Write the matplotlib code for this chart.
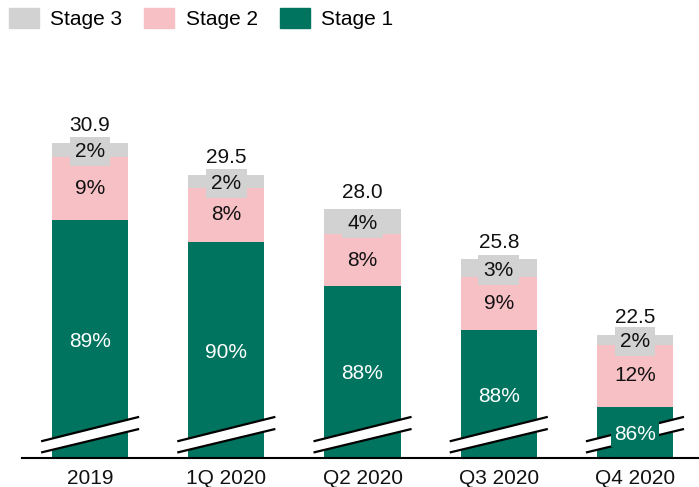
import matplotlib
matplotlib.use("Agg")
import matplotlib.pyplot as plt
from matplotlib.patches import Patch, Polygon

plt.rcParams['font.family'] = ['Liberation Sans', 'DejaVu Sans']

categories = ["2019", "1Q 2020", "Q2 2020", "Q3 2020", "Q4 2020"]
totals = [30.9, 29.5, 28.0, 25.8, 22.5]
stage1_pct = [89, 90, 88, 88, 86]
stage2_pct = [9, 8, 8, 9, 12]
stage3_pct = [2, 2, 4, 3, 2]

GREEN = "#00745F"
PINK = "#F7C0C5"
GREY = "#D2D2D2"
TXT = "#111111"

ybase = 17.1
px_per_unit = 22.86

W, H = 699, 487
fig = plt.figure(figsize=(W / 100, H / 100), dpi=100)
ax_top_px = 60
ax = fig.add_axes([22 / W, (H - 458) / H, 677 / W, (458 - ax_top_px) / H])
ax.set_ylim(ybase, ybase + (458 - ax_top_px) / px_per_unit)
ax.set_xlim(-0.5, 4.47)

x = list(range(len(categories)))
width = 0.56
s1 = [t * p / 100 for t, p in zip(totals, stage1_pct)]
s2 = [t * p / 100 for t, p in zip(totals, stage2_pct)]
s3 = [t - a - b for t, a, b in zip(totals, s1, s2)]

ax.bar(x, s1, width, color=GREEN, zorder=2)
ax.bar(x, s2, width, bottom=s1, color=PINK, zorder=2)
ax.bar(x, s3, width, bottom=[a + b for a, b in zip(s1, s2)], color=GREY, zorder=2)

# axis-break marks
for xi in x:
    xl, xr = xi - 0.36, xi + 0.36
    lo_l, lo_r = ybase + 0.24, ybase + 1.27
    up_l, up_r = ybase + 0.73, ybase + 1.8
    poly = Polygon([(xl, lo_l), (xr, lo_r), (xr, up_r), (xl, up_l)],
                   closed=True, facecolor="white", edgecolor="none", zorder=3)
    ax.add_patch(poly)
    ax.plot([xl, xr], [lo_l, lo_r], color="black", lw=1.6, zorder=4, solid_capstyle="butt")
    ax.plot([xl, xr], [up_l, up_r], color="black", lw=1.6, zorder=4, solid_capstyle="butt")

fs = 15
for i, xi in enumerate(x):
    # total
    ax.annotate(f"{totals[i]:.1f}", (xi, totals[i]), xytext=(0, 12), textcoords="offset points",
                ha="center", va="center", fontsize=fs, color=TXT, zorder=6)
    # stage 3
    y3 = s1[i] + s2[i] + s3[i] / 2
    ax.annotate(f"{stage3_pct[i]}%", (xi, y3), xytext=(0, -1.5), textcoords="offset points",
                ha="center", va="center", fontsize=fs, color=TXT, zorder=6,
                bbox=dict(boxstyle="square,pad=0.25", facecolor=GREY, edgecolor="none"))
    # stage 2
    y2 = s1[i] + s2[i] / 2
    ax.text(xi, y2, f"{stage2_pct[i]}%", ha="center", va="center", fontsize=fs, color=TXT, zorder=6)
    # stage 1
    y1 = (ybase + s1[i]) / 2
    ax.annotate(f"{stage1_pct[i]}%", (xi, y1), xytext=(0, -1.5), textcoords="offset points",
                ha="center", va="center", fontsize=fs, color="white", zorder=6,
                bbox=dict(boxstyle="square,pad=0.15", facecolor=GREEN, edgecolor="none") if i == 4 else None)

ax.set_xticks(x)
ax.set_xticklabels(categories, fontsize=fs, color=TXT)
ax.tick_params(axis="x", length=0, pad=8)
ax.set_yticks([])
for s in ["top", "right", "left"]:
    ax.spines[s].set_visible(False)
ax.spines["bottom"].set_color("black")
ax.spines["bottom"].set_linewidth(1.5)
ax.spines["bottom"].set_zorder(5)

handles = [Patch(color=GREY), Patch(color=PINK), Patch(color=GREEN)]
fig.legend(handles, ["Stage 3", "Stage 2", "Stage 1"], loc="upper left",
           bbox_to_anchor=(9 / W, 1 - 8 / H), ncol=3, frameon=False, fontsize=fs,
           handlelength=1.44, handleheight=1.1, handletextpad=0.55, columnspacing=1.05,
           borderpad=0, borderaxespad=0)

fig.savefig("out.png", dpi=100)
